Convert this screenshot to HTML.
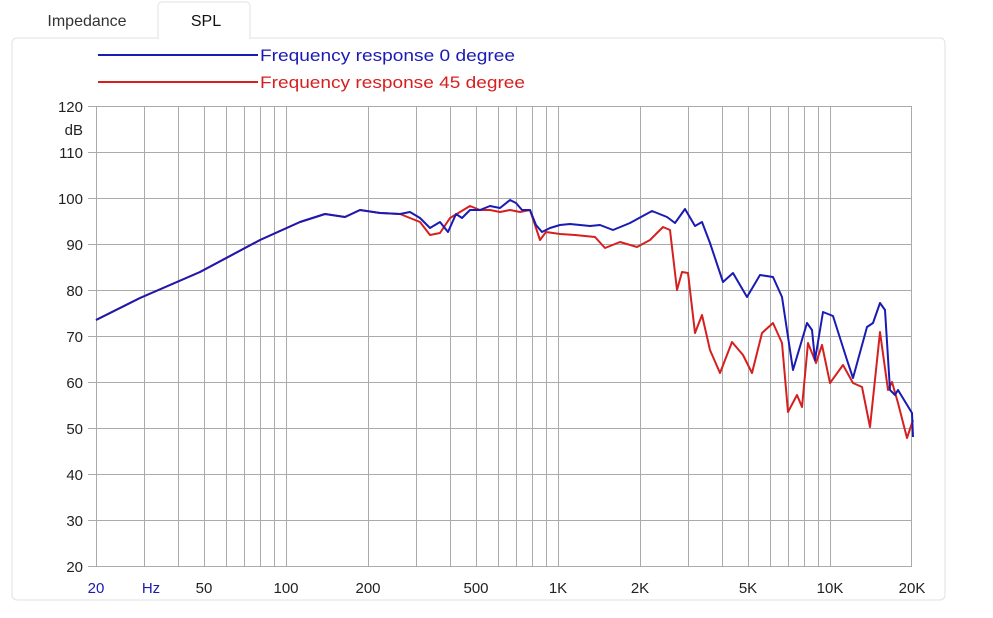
<!DOCTYPE html><html><head><meta charset="utf-8"><style>
body{margin:0;width:993px;height:613px;background:#fff;font-family:"Liberation Sans",sans-serif;overflow:hidden}
</style></head><body>
<svg width="993" height="613" xmlns="http://www.w3.org/2000/svg" font-family="Liberation Sans, sans-serif">
<rect x="12" y="38" width="933" height="562" rx="5" fill="#fff" stroke="#e2e2e2"/>
<path d="M158 39 V6 a4 4 0 0 1 4 -4 H246 a4 4 0 0 1 4 4 V39" fill="#fff" stroke="#e2e2e2"/>
<rect x="159" y="36" width="90" height="5" fill="#fff"/>
<text x="87" y="26" font-size="16" fill="#333" text-anchor="middle">Impedance</text>
<text x="206" y="26" font-size="16" fill="#111" text-anchor="middle">SPL</text>
<line x1="98" y1="55" x2="258" y2="55" stroke="#1a1ab4" stroke-width="2"/>
<text x="260" y="61" font-size="17" fill="#1a1ab4" textLength="255" lengthAdjust="spacingAndGlyphs">Frequency response 0 degree</text>
<line x1="98" y1="82" x2="258" y2="82" stroke="#d62020" stroke-width="2"/>
<text x="260" y="88" font-size="17" fill="#d62020" textLength="265" lengthAdjust="spacingAndGlyphs">Frequency response 45 degree</text>
<g stroke="#aaa" stroke-width="1">
<line x1="96" y1="106.5" x2="912" y2="106.5"/><line x1="96" y1="152.5" x2="912" y2="152.5"/><line x1="96" y1="198.5" x2="912" y2="198.5"/><line x1="96" y1="244.5" x2="912" y2="244.5"/><line x1="96" y1="290.5" x2="912" y2="290.5"/><line x1="96" y1="336.5" x2="912" y2="336.5"/><line x1="96" y1="382.5" x2="912" y2="382.5"/><line x1="96" y1="428.5" x2="912" y2="428.5"/><line x1="96" y1="474.5" x2="912" y2="474.5"/><line x1="96" y1="520.5" x2="912" y2="520.5"/><line x1="96" y1="566.5" x2="912" y2="566.5"/>
<line x1="88" y1="106.5" x2="96" y2="106.5"/><line x1="88" y1="152.5" x2="96" y2="152.5"/><line x1="88" y1="198.5" x2="96" y2="198.5"/><line x1="88" y1="244.5" x2="96" y2="244.5"/><line x1="88" y1="290.5" x2="96" y2="290.5"/><line x1="88" y1="336.5" x2="96" y2="336.5"/><line x1="88" y1="382.5" x2="96" y2="382.5"/><line x1="88" y1="428.5" x2="96" y2="428.5"/><line x1="88" y1="474.5" x2="96" y2="474.5"/><line x1="88" y1="520.5" x2="96" y2="520.5"/><line x1="88" y1="566.5" x2="96" y2="566.5"/>
<path d="M96.5 106V566M144.5 106V566M178.5 106V566M204.5 106V566M226.5 106V566M244.5 106V566M260.5 106V566M274.5 106V566M286.5 106V566M368.5 106V566M416.5 106V566M450.5 106V566M476.5 106V566M498.5 106V566M516.5 106V566M532.5 106V566M546.5 106V566M558.5 106V566M640.5 106V566M688.5 106V566M722.5 106V566M748.5 106V566M770.5 106V566M788.5 106V566M804.5 106V566M818.5 106V566M830.5 106V566M911.5 106V566"/>
</g>
<g font-size="15" fill="#222" text-anchor="end">
<text x="83" y="112">120</text><text x="83" y="135">dB</text><text x="83" y="158">110</text><text x="83" y="204">100</text><text x="83" y="250">90</text><text x="83" y="296">80</text><text x="83" y="342">70</text><text x="83" y="388">60</text><text x="83" y="434">50</text><text x="83" y="480">40</text><text x="83" y="526">30</text><text x="83" y="572">20</text>
</g>
<g font-size="15" fill="#222" text-anchor="middle">
<text x="96" y="593" fill="#1a1ab4">20</text><text x="151" y="593" fill="#1a1ab4">Hz</text><text x="204" y="593">50</text><text x="286" y="593">100</text><text x="368" y="593">200</text><text x="476" y="593">500</text><text x="558" y="593">1K</text><text x="640" y="593">2K</text><text x="748" y="593">5K</text><text x="830" y="593">10K</text><text x="912" y="593">20K</text>
</g>
<g fill="none" stroke-width="2" stroke-linejoin="round">
<polyline stroke="#d62020" points="96,320 140,298 200,272 260,240 300,222 325,214 345,217 360,210 380,213 400,214 420,222 430,235 440,233 450,218 460,212 470,206 480,210 490,210 500,212 510,210 520,212 530,210 536,228 540,240 546,232 560,234 575,235 595,237 605,248 620,242 637,247 650,240 663,227 670,230 677,290 682,272 688,273 695,333 702,315 710,350 720,373 732,342 743,355 752,373 762,333 773,323 782,343 788,412 797,395 802,407 808,343 816,363 822,345 830,383 843,365 853,383 862,387 870,427 880,332 888,390 892,382 898,403 907,438 913,420"/>
<polyline stroke="#1a1ab4" points="96,320 140,298 200,272 260,240 300,222 325,214 345,217 360,210 380,213 400,214 410,212 420,218 430,228 440,222 448,232 456,214 462,218 470,210 480,210 490,206 500,208 510,200 516,203 522,210 530,210 536,225 542,232 550,228 560,225 570,224 590,226 600,225 613,230 630,223 652,211 667,217 675,223 685,209 695,226 702,222 710,243 723,282 733,273 747,297 760,275 773,277 782,297 793,370 807,323 812,330 815,360 823,312 833,316 847,360 853,378 867,327 873,323 880,303 885,310 890,390 895,395 898,390 912,413 913,437"/>
</g>
</svg>
</body></html>
